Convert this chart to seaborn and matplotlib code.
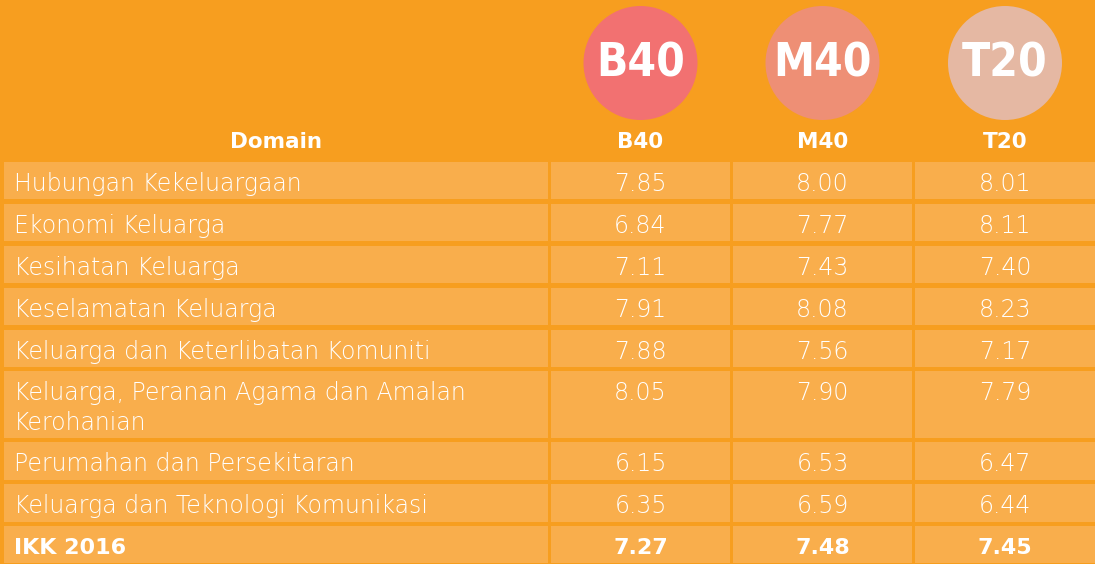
import matplotlib
matplotlib.use("Agg")
import matplotlib.pyplot as plt
from matplotlib import font_manager
from matplotlib.patches import Rectangle, Circle
import seaborn as sns

# data
domains = [
    "Hubungan Kekeluargaan",
    "Ekonomi Keluarga",
    "Kesihatan Keluarga",
    "Keselamatan Keluarga",
    "Keluarga dan Keterlibatan Komuniti",
    "Keluarga, Peranan Agama dan Amalan\nKerohanian",
    "Perumahan dan Persekitaran",
    "Keluarga dan Teknologi Komunikasi",
    "IKK 2016",
]
groups = ["B40", "M40", "T20"]
b40 = [7.85, 6.84, 7.11, 7.91, 7.88, 8.05, 6.15, 6.35, 7.27]
m40 = [8.00, 7.77, 7.43, 8.08, 7.56, 7.90, 6.53, 6.59, 7.48]
t20 = [8.01, 8.11, 7.40, 8.23, 7.17, 7.79, 6.47, 6.44, 7.45]

sns.set_style("white")
plt.rcParams["font.family"] = ["DejaVu Sans"]

# pick a condensed bold face for the circle badges if one is installed
condensed = [f.name for f in font_manager.fontManager.ttflist
             if f.stretch in ("condensed", "semi-condensed", "extra-condensed", "ultra-condensed")
             and (f.weight in ("bold", "heavy", "black", "semibold") or
                  (isinstance(f.weight, int) and f.weight >= 600))]
if condensed:
    badge_font = dict(family=[condensed[0]], fontstretch="condensed", fontsize=33)
else:
    badge_font = dict(family=["Liberation Sans", "DejaVu Sans"], fontsize=34)

BG = "#F79E1F"
CELL = "#F9AE4C"
circle_colors = ["#F27171", "#EE8F75", "#E5B8A3"]

W, H = 1095, 564
fig = plt.figure(figsize=(W / 100, H / 100), dpi=100, facecolor=BG)
ax = fig.add_axes([0, 0, 1, 1])
ax.set_xlim(0, W)
ax.set_ylim(H, 0)
ax.axis("off")
ax.set_facecolor(BG)

# column layout (left, right)
cols = [(4, 548), (551, 730), (733, 912), (915, 1095)]
gap = 4.5
top = 162
pitch1, pitch2 = 41.9, 70.8

values = list(zip(b40, m40, t20))
for i, name in enumerate(domains):
    nlines = name.count("\n") + 1
    pitch = pitch1 if nlines == 1 else pitch2
    h = min(pitch - gap, H - top)
    for (x0, x1) in cols:
        ax.add_patch(Rectangle((x0, top), x1 - x0, h, facecolor=CELL, edgecolor="none"))
    bold = i == len(domains) - 1
    weight = "bold" if bold else 200
    size = 16 if bold else 17
    for j, line in enumerate(name.split("\n")):
        ax.text(14, top + 22 + 30 * j, line, color="white", fontsize=size,
                fontweight=weight, va="center", ha="left")
    for (x0, x1), v in zip(cols[1:], values[i]):
        ax.text((x0 + x1) / 2, top + 22, f"{v:.2f}", color="white", fontsize=size,
                fontweight=weight, va="center", ha="center")
    top += pitch

# header
ax.text((cols[0][0] + cols[0][1]) / 2, 142, "Domain", color="white", fontsize=15.5,
        fontweight="bold", ha="center", va="center")
for (x0, x1), g, c in zip(cols[1:], groups, circle_colors):
    cx = (x0 + x1) / 2
    ax.add_patch(Circle((cx, 63), 57, facecolor=c, edgecolor="none"))
    ax.text(cx, 64, g, color="white", fontweight="bold",
            ha="center", va="center", **badge_font)
    ax.text(cx, 142, g, color="white", fontsize=15.5, fontweight="bold",
            ha="center", va="center")

fig.savefig("out.png", dpi=100, facecolor=BG)
